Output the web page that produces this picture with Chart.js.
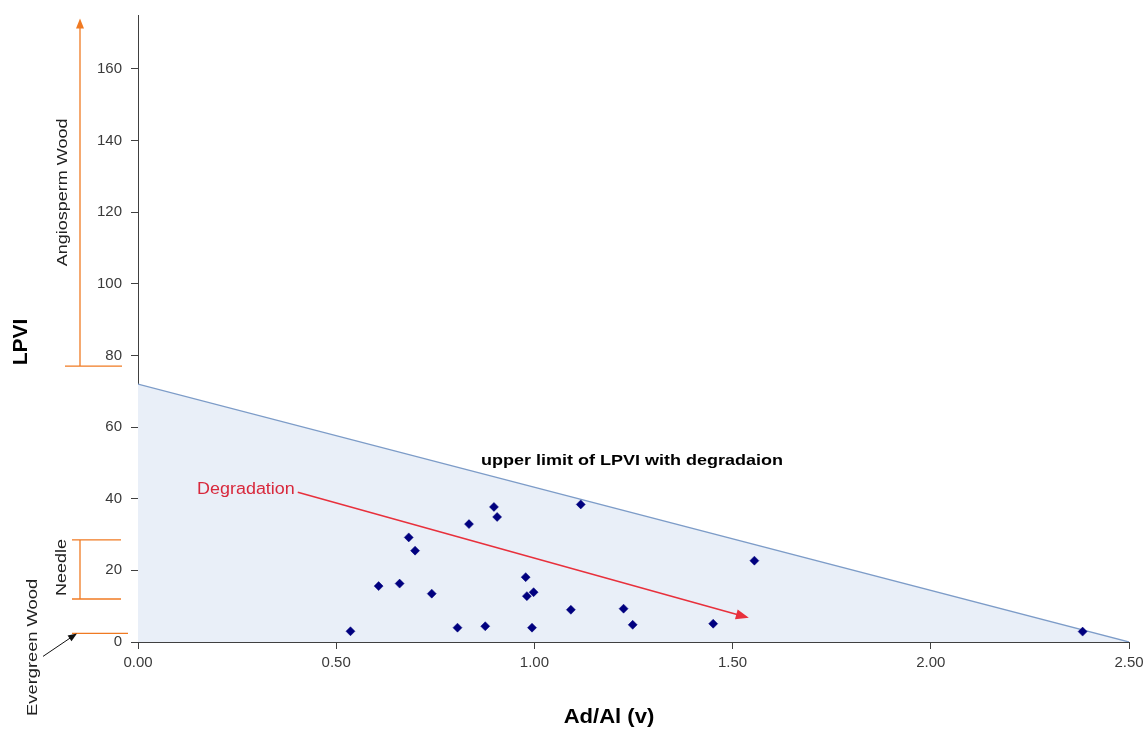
<!DOCTYPE html>
<html><head><meta charset="utf-8">
<script src="https://cdn.jsdelivr.net/npm/chart.js@4.4.1/dist/chart.umd.min.js"></script>
<style>html,body{margin:0;padding:0;background:#fff}#wrap{width:1148px;height:730px}</style>
</head><body><div id="wrap"><canvas id="c" width="1148" height="730"></canvas></div>
<script>
// ---- data ----
const adAl = [0.536,0.607,0.660,0.683,0.699,0.741,0.806,0.835,0.876,0.898,0.906,0.978,0.981,0.998,0.994,1.092,1.117,1.225,1.248,1.451,1.555,2.383];
const lpvi = [3.0,15.6,16.3,29.2,25.5,13.5,4.0,32.9,4.4,37.7,34.9,18.1,12.8,13.9,4.0,9.0,38.4,9.3,4.8,5.1,22.7,2.9];
const limitX = [0, 2.5];
const limitY = [72, 0];
const xTickValues = [0, 0.5, 1, 1.5, 2, 2.5];
const yTickValues = [0, 20, 40, 60, 80, 100, 120, 140, 160];
const degradeX = [0.403, 1.541];
const degradeY = [41.8, 6.75];
const angiospermRange = [77, 174];
const needleRange = [12, 28.5];
const evergreenLevel = [2.4];
const limitLabelPos = [1.246, 50.6];

const ORANGE = '#f07a22';

function stretchText(ctx, text, x, y, font, color, sx, rot, align) {
  ctx.save();
  ctx.translate(x, y);
  if (rot) ctx.rotate(rot);
  ctx.scale(sx, 1);
  ctx.font = font; ctx.fillStyle = color;
  ctx.textAlign = align || 'center'; ctx.textBaseline = 'middle';
  ctx.fillText(text, 0, 0);
  ctx.restore();
}
function arrow(ctx, x1, y1, x2, y2, color, lw, headLen, headW) {
  const a = Math.atan2(y2 - y1, x2 - x1);
  ctx.save();
  ctx.strokeStyle = color; ctx.fillStyle = color; ctx.lineWidth = lw;
  ctx.beginPath(); ctx.moveTo(x1, y1);
  ctx.lineTo(x2 - Math.cos(a) * headLen * 0.8, y2 - Math.sin(a) * headLen * 0.8);
  ctx.stroke();
  ctx.translate(x2, y2); ctx.rotate(a);
  ctx.beginPath(); ctx.moveTo(0, 0); ctx.lineTo(-headLen, headW / 2); ctx.lineTo(-headLen, -headW / 2);
  ctx.closePath(); ctx.fill();
  ctx.restore();
}
function hline(ctx, x1, x2, y, color, lw) {
  ctx.save(); ctx.strokeStyle = color; ctx.lineWidth = lw;
  ctx.beginPath(); ctx.moveTo(x1, y); ctx.lineTo(x2, y); ctx.stroke(); ctx.restore();
}
function vline(ctx, x, y1, y2, color, lw) {
  ctx.save(); ctx.strokeStyle = color; ctx.lineWidth = lw;
  ctx.beginPath(); ctx.moveTo(x, y1); ctx.lineTo(x, y2); ctx.stroke(); ctx.restore();
}

const annotations = {
  id: 'annotations',
  afterDatasetsDraw(chart) {
    const ctx = chart.ctx, xs = chart.scales.x, ys = chart.scales.y;
    const ax1 = xs.getPixelForValue(degradeX[0]), ay1 = ys.getPixelForValue(degradeY[0]);
    const ax2 = xs.getPixelForValue(degradeX[1]), ay2 = ys.getPixelForValue(degradeY[1]);
    arrow(ctx, ax1, ay1, ax2, ay2, '#e8303c', 1.5, 13, 10);
    stretchText(ctx, 'Degradation', ax1 - 3, ay1 - 3, '16px "Liberation Sans", Arial, sans-serif', '#d8283c', 1.12, 0, 'right');
    stretchText(ctx, 'upper limit of LPVI with degradaion',
      xs.getPixelForValue(limitLabelPos[0]), ys.getPixelForValue(limitLabelPos[1]),
      'bold 15px "Liberation Sans", Arial, sans-serif', '#000', 1.2, 0, 'center');
  },
  afterDraw(chart) {
    const ctx = chart.ctx, ys = chart.scales.y, L = chart.chartArea.left;
    const vx = L - 58;
    const aBase = ys.getPixelForValue(angiospermRange[0]);
    const aTop = ys.getPixelForValue(angiospermRange[1]);
    hline(ctx, L - 73, L - 16, aBase, ORANGE, 1.3);
    arrow(ctx, vx, aBase, vx, aTop, ORANGE, 1.3, 10, 8);
    const labFont = '15px "Liberation Sans", Arial, sans-serif';
    stretchText(ctx, 'Angiosperm Wood', L - 75.5, (aBase + aTop) / 2, labFont, '#222', 1.2, -Math.PI / 2);
    const n1 = ys.getPixelForValue(needleRange[0]), n2 = ys.getPixelForValue(needleRange[1]);
    hline(ctx, L - 66, L - 17, n1, ORANGE, 1.3);
    hline(ctx, L - 66, L - 17, n2, ORANGE, 1.3);
    vline(ctx, vx, n1, n2, ORANGE, 1.3);
    stretchText(ctx, 'Needle', L - 76, (n1 + n2) / 2 - 2, labFont, '#222', 1.2, -Math.PI / 2);
    const e = ys.getPixelForValue(evergreenLevel[0]);
    hline(ctx, L - 66, L - 10, e, ORANGE, 1.3);
    arrow(ctx, L - 95, e + 23, L - 61, e, '#111', 1, 9, 7);
    stretchText(ctx, 'Evergreen Wood', L - 105, e + 14, labFont, '#222', 1.22, -Math.PI / 2);
    stretchText(ctx, 'LPVI', 21, 342, 'bold 21px "Liberation Sans", Arial, sans-serif', '#000', 1.0, -Math.PI / 2);
    stretchText(ctx, 'Ad/Al (v)', 609, 717, 'bold 21px "Liberation Sans", Arial, sans-serif', '#000', 1.05, 0);
  }
};

new Chart(document.getElementById('c'), {
  type: 'scatter',
  data: {
    datasets: [
      {
        type: 'scatter',
        data: adAl.map((x, i) => ({ x, y: lpvi[i] })),
        pointStyle: 'rectRot',
        pointRadius: 4.5,
        backgroundColor: '#00007f',
        borderColor: '#00007f',
        borderWidth: 0.5
      },
      {
        type: 'line',
        data: limitX.map((x, i) => ({ x, y: limitY[i] })),
        fill: 'origin',
        backgroundColor: '#e9eff8',
        borderColor: '#7d9cc8',
        borderWidth: 1.3,
        pointRadius: 0,
        tension: 0
      }
    ]
  },
  options: {
    responsive: false,
    devicePixelRatio: 1,
    animation: false,
    layout: { padding: { left: 0, right: 19, top: 15, bottom: 0 } },
    plugins: { legend: { display: false }, tooltip: { enabled: false } },
    scales: {
      x: {
        type: 'linear', min: 0, max: 2.5,
        afterBuildTicks: s => { s.ticks = xTickValues.map(v => ({ value: v })); },
        afterFit: s => { s.height = 88; s.paddingLeft = 0; s.paddingRight = 0; },
        ticks: { callback: v => Number(v).toFixed(2), color: '#3a3a3a', padding: 5, maxRotation: 0,
                 font: { family: '"Liberation Sans", Arial, sans-serif', size: 15 } },
        grid: { drawOnChartArea: false, drawTicks: true, tickLength: 7, color: '#404040' },
        border: { color: '#404040', width: 1 }
      },
      y: {
        type: 'linear', min: 0, max: 175,
        afterBuildTicks: s => { s.ticks = yTickValues.map(v => ({ value: v })); },
        afterFit: s => { s.width = 138; s.paddingTop = 0; s.paddingBottom = 0; },
        ticks: { color: '#3a3a3a', padding: 9,
                 font: { family: '"Liberation Sans", Arial, sans-serif', size: 15 } },
        grid: { drawOnChartArea: false, drawTicks: true, tickLength: 7, color: '#404040' },
        border: { color: '#404040', width: 1 }
      }
    }
  },
  plugins: [annotations]
});
</script>
</body></html>
